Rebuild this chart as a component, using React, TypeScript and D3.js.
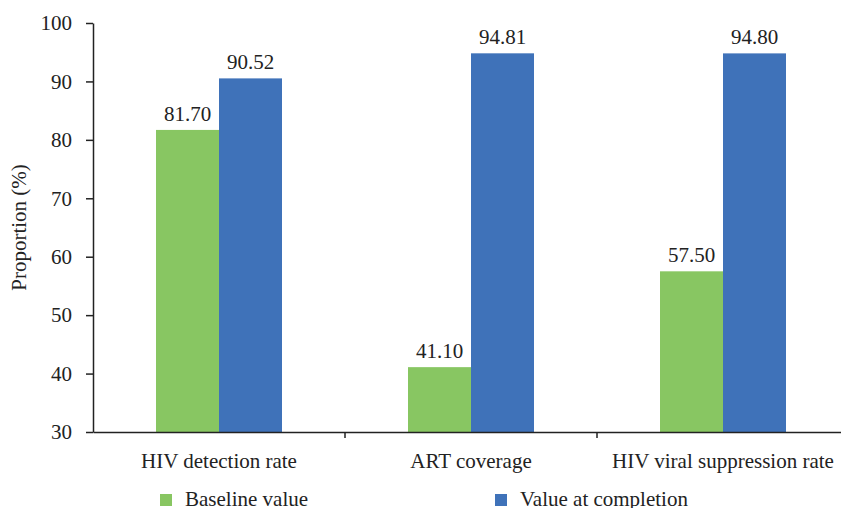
import React, { useEffect, useRef } from 'react';
import * as d3 from 'd3';

const categories = ['HIV detection rate', 'ART coverage', 'HIV viral suppression rate'];
const seriesNames = ['Baseline value', 'Value at completion'];
const baseline = [81.7, 41.1, 57.5];
const completion = [90.52, 94.81, 94.8];
const yTicks = [30, 40, 50, 60, 70, 80, 90, 100];
const colors = ['#88C662', '#3F72B9'];

const App: React.FC = () => {
  const svgRef = useRef<SVGSVGElement>(null);

  useEffect(() => {
    if (!svgRef.current) return;
    const width = 841;
    const height = 508;
    const margin = { top: 23, right: -8, bottom: 76, left: 93 };
    const font = 'Liberation Serif';
    const fs = 21;

    const svg = d3.select(svgRef.current)
      .attr('font-family', font);
    svg.selectAll('*').remove();

    const x0 = d3.scaleBand<string>()
      .domain(categories)
      .range([margin.left, width - margin.right])
      .padding(0);

    const x1 = d3.scaleBand<string>()
      .domain(seriesNames)
      .range([0, x0.bandwidth()])
      .paddingInner(0)
      .paddingOuter(1);

    const y = d3.scaleLinear()
      .domain([30, 100])
      .range([height - margin.bottom, margin.top]);

    const values = [baseline, completion];

    // Bars
    const groups = svg.append('g')
      .selectAll('g')
      .data(categories)
      .join('g')
      .attr('transform', d => `translate(${x0(d)},0)`);

    groups.each(function (cat, ci) {
      const g = d3.select(this);
      seriesNames.forEach((s, si) => {
        const v = values[si][ci];
        g.append('rect')
          .attr('x', x1(s)!)
          .attr('y', y(v))
          .attr('width', x1.bandwidth())
          .attr('height', y(30) - y(v))
          .attr('fill', colors[si]);
        g.append('text')
          .attr('x', x1(s)! + x1.bandwidth() / 2)
          .attr('y', y(v) - 9)
          .attr('text-anchor', 'middle')
          .attr('font-family', font)
          .attr('font-size', fs)
          .attr('fill', '#222')
          .text(v.toFixed(2));
      });
    });

    // Y axis
    const yAxis = svg.append('g')
      .attr('transform', `translate(${margin.left},0)`)
      .call(d3.axisLeft(y).tickValues(yTicks).tickSize(7).tickSizeOuter(0).tickPadding(14))
      .attr('font-family', font)
      .attr('font-size', fs);
    yAxis.select('.domain').attr('stroke', '#222').attr('stroke-width', 1.5);
    yAxis.selectAll('.tick line').attr('stroke', '#222').attr('stroke-width', 1.5);
    yAxis.selectAll('.tick text').attr('fill', '#222');

    // X axis
    const xAxis = svg.append('g')
      .attr('transform', `translate(0,${y(30)})`)
      .call(d3.axisBottom(x0).tickSize(0).tickSizeOuter(0).tickPadding(21))
      .attr('font-family', font)
      .attr('font-size', fs);
    xAxis.select('.domain').attr('stroke', '#222').attr('stroke-width', 1.5);
    xAxis.selectAll('.tick text').attr('fill', '#222');

    // Category separator ticks
    svg.append('g')
      .selectAll('line')
      .data(categories.slice(1))
      .join('line')
      .attr('x1', d => x0(d)!)
      .attr('x2', d => x0(d)!)
      .attr('y1', y(30))
      .attr('y2', y(30) + 6)
      .attr('stroke', '#222')
      .attr('stroke-width', 1.5);

    // Y axis title
    svg.append('text')
      .attr('transform', `translate(26,${(y(30) + y(100)) / 2}) rotate(-90)`)
      .attr('text-anchor', 'middle')
      .attr('font-family', font)
      .attr('font-size', fs)
      .attr('fill', '#222')
      .text('Proportion (%)');

    // Legend
    const legendX = [160, 495];
    const legend = svg.append('g')
      .selectAll('g')
      .data(seriesNames)
      .join('g')
      .attr('transform', (_, i) => `translate(${legendX[i]},494)`);
    legend.append('rect')
      .attr('width', 12)
      .attr('height', 12)
      .attr('fill', (_, i) => colors[i]);
    legend.append('text')
      .attr('x', 25)
      .attr('y', 12)
      .attr('font-family', font)
      .attr('font-size', fs)
      .attr('fill', '#222')
      .text(d => d);
  }, []);

  return (
    <svg
      ref={svgRef}
      width={841}
      height={508}
      style={{ position: 'absolute', left: 0, top: 0, background: '#fff' }}
    />
  );
};

export default App;
